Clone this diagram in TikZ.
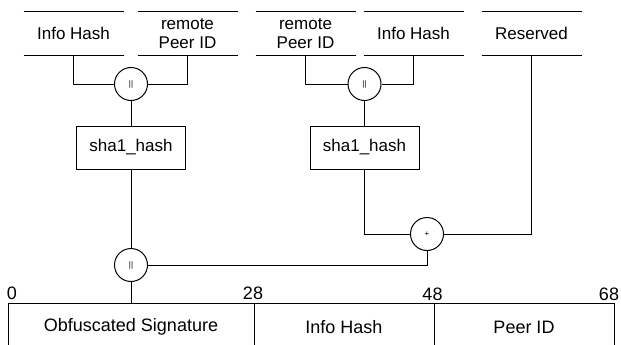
\documentclass[tikz,border=0pt]{standalone}
\usepackage{fontspec}
\setmainfont{Liberation Sans}
\begin{document}
\begin{tikzpicture}[x=1pt,y=-1pt,
  line width=1pt,
  lbl/.style={font=\fontsize{17}{19}\selectfont},
  biglbl/.style={font=\fontsize{18}{20}\selectfont},
  field/.style={lbl, minimum width=99pt, minimum height=42.5pt, inner sep=0pt, align=center},
  op/.style={draw, circle, minimum size=33pt, inner sep=0pt, font=\fontsize{8}{8}\selectfont},
  hashbox/.style={lbl, draw, minimum width=109pt, minimum height=43pt, inner sep=0pt},
  seg/.style={biglbl, draw, minimum height=48pt, inner sep=0pt},
  num/.style={biglbl, inner sep=0pt}]
\useasboundingbox (0,0) rectangle (621,345);
% input fields
\node[field] (f1) at (73.5,33.5) {Info Hash};
\node[field] (f2) at (187.5,33.5) {remote\\Peer ID};
\node[field] (f3) at (305.5,33.5) {remote\\Peer ID};
\node[field] (f4) at (413.5,33.5) {Info Hash};
\node[field] (f5) at (531.5,33.5) {Reserved};
\foreach \f in {f1,f2,f3,f4,f5}{
  \draw (\f.north west) -- (\f.north east);
  \draw (\f.south west) -- (\f.south east);
}
% operators
\node[op] (c1) at (131,84) {||};
\node[op] (c2) at (364.5,84) {||};
\node[op] (c3) at (131,265) {||};
\node[op] (c4) at (427,234) {+};
% hash boxes
\node[hashbox] (b1) at (131,147.5) {sha1\_hash};
\node[hashbox] (b2) at (364.5,147.5) {sha1\_hash};
% output segments
\node[seg, minimum width=246pt] (s1) at (131,327) {Obfuscated Signature};
\node[seg, minimum width=180pt] (s2) at (344,327) {Info Hash};
\node[seg, minimum width=180pt] (s3) at (524,327) {Peer ID};
\node[num] (n0) at (12,293) {0};
\node[num] (n28) at (253,293.5) {28};
\node[num] (n48) at (432.5,294) {48};
\node[num] (n68) at (609,294) {68};
% connectors
\draw (f1.south) |- (c1.west);
\draw (f2.south) |- (c1.east);
\draw (c1.south) -- (b1.north);
\draw (f3.south) |- (c2.west);
\draw (f4.south) |- (c2.east);
\draw (c2.south) -- (b2.north);
\draw (b1.south) -- (c3.north);
\draw (b2.south) |- (c4.west);
\draw (f5.south) |- (c4.east);
\draw (c3.east) -| (c4.south);
\draw (c3.south) -- (c3.south |- s1.north);
\end{tikzpicture}
\end{document}
